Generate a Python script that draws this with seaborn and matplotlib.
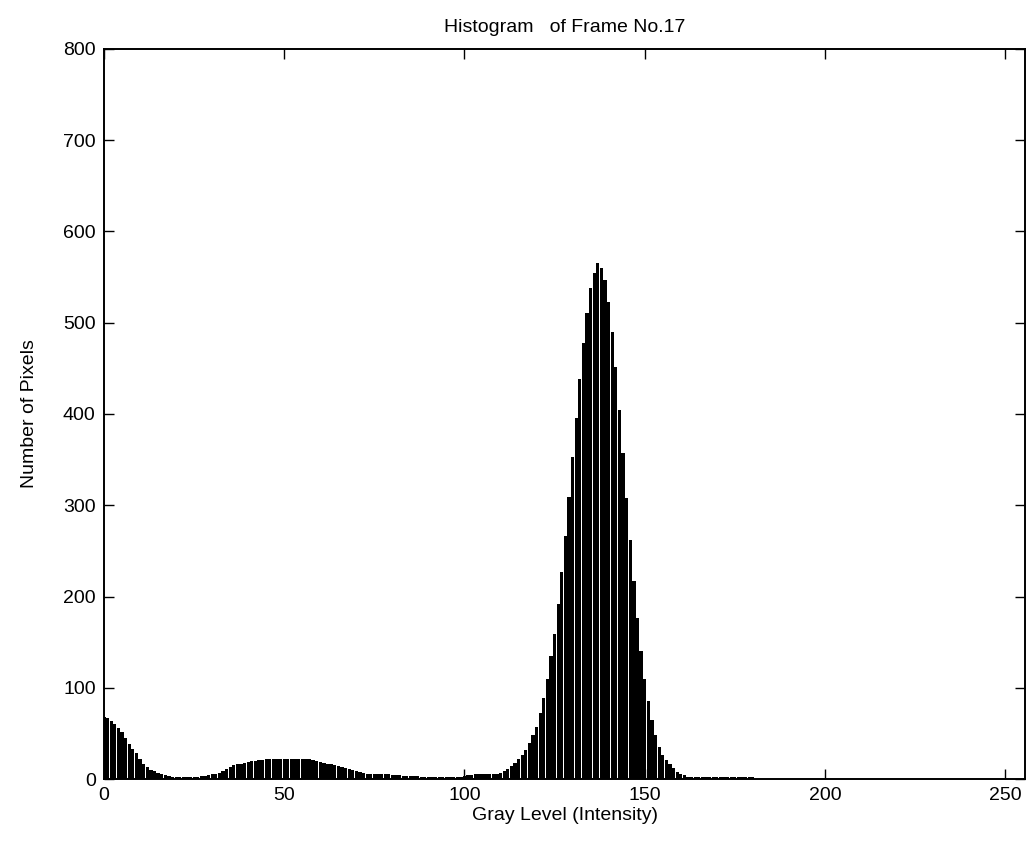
import numpy as np
import pandas as pd
import matplotlib
matplotlib.use("Agg")
import matplotlib.pyplot as plt
import seaborn as sns

# Gray levels 0..180 (counts beyond are zero)
counts_0_27 = [68, 67, 64, 60, 56, 51, 45, 38, 33, 28, 22, 17, 13, 10, 9, 7, 6, 4, 3, 2,
               2, 2, 2, 2, 2, 2, 2, 3]
counts_28_64 = [3, 4, 5, 6, 7, 9, 11, 13, 15, 16, 17, 18, 19, 20, 20, 21, 21,
                22, 22, 22, 22, 22, 22, 22, 22, 22, 22, 22, 22, 22, 21, 20, 19, 18, 17, 16, 15]
counts_65_107 = [14, 13, 12, 11, 10, 9, 8, 7, 6, 6, 5, 5, 5, 5, 5, 4, 4, 4,
                 3, 3, 3, 3, 3, 2, 2, 2, 2, 2, 2, 2, 2, 2, 2, 2, 2,
                 3, 4, 4, 5, 5, 5, 5, 5]
counts_108_161 = [5, 6, 7, 9, 11, 14, 18, 22, 26, 32, 39, 48, 57, 72, 89, 110, 135, 159,
                  192, 227, 266, 309, 353, 396, 438, 478, 511, 538, 555, 565, 560, 547,
                  523, 490, 451, 404, 357, 308, 262, 217, 176, 140, 110, 86, 65, 48, 35,
                  26, 21, 17, 12, 8, 5, 4]
counts_162_180 = [2] * 19

counts = counts_0_27 + counts_28_64 + counts_65_107 + counts_108_161 + counts_162_180
gray_levels = list(range(len(counts)))

title = "Histogram   of Frame No.17"
xlabel = "Gray Level (Intensity)"
ylabel = "Number of Pixels"
xticks = [0, 50, 100, 150, 200, 250]
yticks = [0, 100, 200, 300, 400, 500, 600, 700, 800]

df = pd.DataFrame({"gray": gray_levels, "count": counts})

sns.set_style("ticks")
plt.rcParams["font.family"] = ["Liberation Sans", "DejaVu Sans"]
plt.rcParams["text.color"] = "black"
plt.rcParams["axes.labelcolor"] = "black"

fig = plt.figure(figsize=(10.29, 8.5), dpi=100)
ax = fig.add_axes([0.1011, 0.0835, 0.8950, 0.8589])

sns.barplot(data=df, x="gray", y="count", native_scale=True, color="black",
            width=0.9, linewidth=0, saturation=1, ax=ax)

ax.set_xlim(0, 255.5)
ax.set_ylim(0, 800)
ax.set_xticks(xticks)
ax.set_yticks(yticks)
ax.set_xticklabels([str(t) for t in xticks])
ax.set_yticklabels([str(t) for t in yticks])
ax.tick_params(direction="in", length=7, width=1, top=True, right=True,
               labelsize=14, colors="black", pad=6)
for s in ax.spines.values():
    s.set_visible(True)
    s.set_linewidth(1.4)
    s.set_color("black")

ax.set_xlabel(xlabel, fontsize=14, labelpad=2, color="black")
ax.set_ylabel(ylabel, fontsize=14, labelpad=18, color="black")
ax.set_title(title, fontsize=14, pad=12, color="black")

fig.savefig("out.png", dpi=100, facecolor="white")
